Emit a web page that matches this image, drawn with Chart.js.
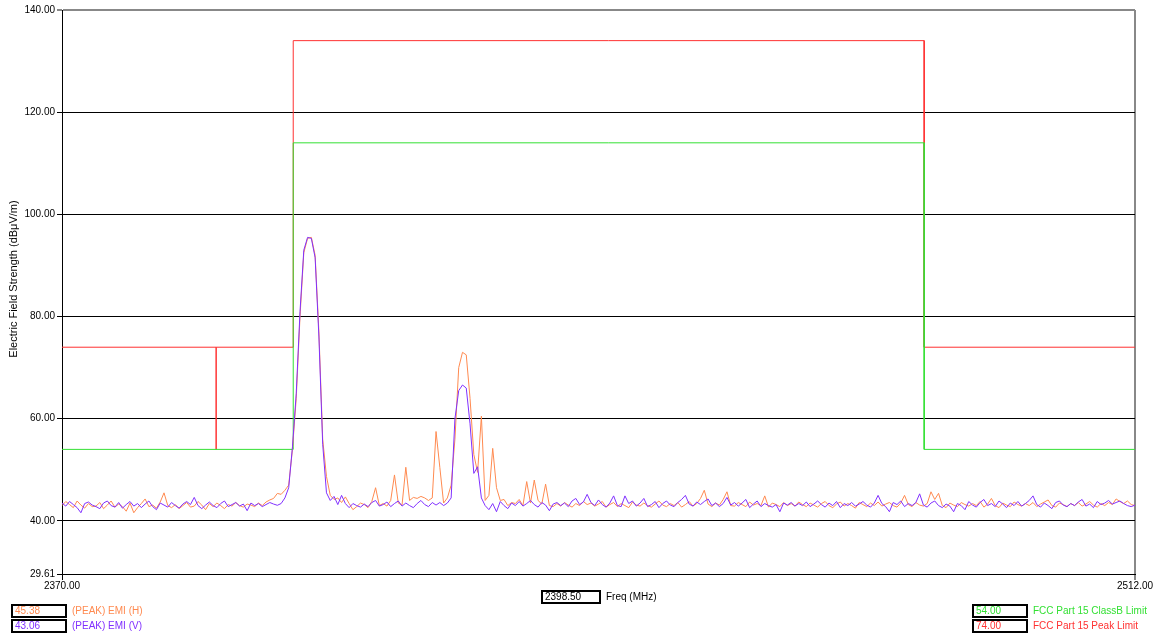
<!DOCTYPE html>
<html>
<head>
<meta charset="utf-8">
<title>EMI Scan 2370-2512 MHz</title>
<script src="https://cdn.jsdelivr.net/npm/chart.js@4"></script>
<style>
  html, body { margin: 0; padding: 0; background: #fff; }
  #wrap { width: 1159px; height: 635px; }
</style>
</head>
<body>
<div id="wrap"><canvas id="emi"></canvas></div>
<script>
// sweep: 2370 MHz start, 0.5 MHz per sample
const freqStart = 2370;
const freqStep = 0.5;

// (PEAK) EMI (H), dBuV/m
const emiH = [
    43.0, 43.8, 43.2, 42.6, 43.9, 43.1, 42.5, 43.4, 42.8, 42.9, 43.6, 42.4, 43.1, 43.9, 42.7, 43.3, 42.8, 41.9, 43.5, 41.6,
    42.6, 43.4, 44.3, 42.8, 43.1, 42.5, 43.7, 45.5, 43.0, 42.6, 43.2, 42.4, 43.0, 43.6, 42.7, 42.9, 43.8, 43.1, 42.2, 43.4,
    42.8, 43.5, 43.0, 42.4, 43.2, 42.9, 43.6, 43.0, 42.7, 43.3, 43.1, 42.8, 43.5, 43.0, 43.7, 44.1, 44.4, 45.38, 45.2, 46.0,
    47.0, 54.0, 64.0, 80.0, 92.5, 95.3, 95.5, 92.0, 77.0, 56.0, 48.7, 45.0, 44.2, 44.5, 43.6, 44.7, 43.4, 42.2, 42.8, 43.5,
    43.2, 42.6, 43.8, 46.5, 43.0, 43.4, 42.9, 44.0, 49.0, 43.5, 43.1, 50.5, 44.0, 44.6, 44.4, 44.8, 44.5, 44.0, 44.5, 57.5,
    50.5, 43.5, 44.5, 47.0, 56.0, 70.0, 73.0, 72.5, 64.0, 53.0, 49.5, 60.5, 44.0, 45.0, 54.2, 46.5, 44.0, 44.2, 43.0, 43.6,
    43.4, 44.2, 43.0, 47.7, 43.5, 48.0, 44.0, 43.3, 47.2, 43.0, 42.8, 43.4, 42.9, 43.6, 43.1, 42.7, 43.4, 43.0, 43.8, 43.2,
    43.5, 42.9, 43.3, 43.8, 42.7, 43.2, 43.6, 42.8, 43.4, 43.0, 42.6, 43.7, 43.1, 42.9, 43.5, 43.0, 42.7, 43.3, 43.9, 43.1,
    42.8, 43.4, 43.0, 43.6, 42.7, 43.2, 43.8, 42.9, 43.4, 44.4, 46.0, 43.3, 42.8, 43.5, 43.1, 44.2, 45.7, 43.0, 42.9, 43.6,
    43.2, 42.8, 43.7, 43.1, 43.4, 43.0, 44.9, 42.7, 43.5, 43.2, 42.8, 43.6, 43.0, 43.4, 42.9, 43.7, 43.2, 42.8, 43.5, 43.1,
    42.7, 43.4, 43.8, 43.0, 42.6, 43.3, 43.7, 42.9, 43.4, 43.0, 42.5, 43.6, 43.2, 42.8, 43.5, 43.0, 43.7, 42.9, 43.3, 43.6,
    43.0, 42.7, 43.5, 45.0, 43.2, 42.8, 43.6, 43.1, 42.9, 43.4, 45.7, 44.2, 45.4, 43.0, 42.6, 43.5, 43.1, 42.8, 43.6, 43.2,
    42.9, 43.4, 43.0, 43.8, 42.7, 43.3, 44.4, 43.0, 42.6, 43.5, 43.1, 42.8, 43.7, 43.2, 42.9, 43.4, 43.0, 43.6, 42.8, 43.3,
    43.7, 44.1, 43.0, 42.7, 43.5, 43.2, 42.8, 43.4, 43.0, 43.6, 42.9, 43.3, 43.8, 43.1, 42.7, 43.4, 43.0, 43.6, 43.2, 44.3,
    43.8, 43.4, 43.9, 43.2, 43.0
];

// (PEAK) EMI (V), dBuV/m
const emiV = [
    43.5, 42.9, 43.8, 43.2, 42.6, 41.6, 43.4, 43.7, 43.1, 42.8, 42.4, 43.5, 43.9, 43.0, 42.7, 43.6, 42.5, 43.2, 43.8, 42.9,
    43.4, 42.6, 43.3, 43.9, 42.8, 42.2, 43.5, 43.1, 42.7, 43.6, 43.0, 42.5, 43.3, 43.8, 43.2, 44.6, 43.0, 42.4, 43.1, 43.7,
    43.0, 42.6, 43.4, 43.9, 42.8, 43.2, 43.6, 42.9, 43.3, 42.0, 43.5, 43.0, 43.4, 42.8, 43.2, 43.6, 43.3, 43.06, 43.4, 44.5,
    46.5, 54.5, 65.0, 81.0, 93.0, 95.5, 95.3, 91.5, 76.0, 55.0, 45.5, 44.0, 44.8, 43.2, 45.0, 43.4, 42.6, 43.4, 43.0, 42.7,
    43.3, 42.8, 43.6, 44.0, 42.9, 43.2, 43.7, 42.8, 43.4, 43.9, 42.9, 43.5, 43.0, 42.6, 43.4, 44.0, 43.2, 42.8, 43.6, 43.1,
    43.6, 43.0, 43.5, 44.5, 60.0, 65.5, 66.6, 66.0, 59.0, 49.3, 50.6, 44.5, 43.0, 42.2, 43.4, 41.8, 43.8, 43.0, 42.4, 43.5,
    43.0, 43.8, 42.9, 43.4, 44.0, 43.2, 42.7, 43.6, 43.1, 42.0, 43.3, 43.6, 43.0, 43.5, 42.8, 43.9, 44.4, 43.2, 43.7, 45.2,
    43.6, 43.0, 44.1, 43.2, 42.7, 43.5, 44.9, 43.0, 42.8, 44.9, 43.4, 43.9, 42.9, 43.5, 44.4, 42.8, 43.2, 43.8, 42.6, 43.4,
    43.9, 43.1, 42.8, 43.6, 44.2, 45.0, 43.3, 42.9, 43.7, 43.2, 43.8, 44.3, 43.0, 43.5, 42.8, 43.4, 44.6, 43.1, 43.6, 42.9,
    43.5, 44.2, 42.6, 43.3, 43.9, 42.8, 43.4, 43.0, 42.7, 43.2, 41.8, 43.5, 43.1, 43.6, 42.9, 43.4, 43.0, 43.7, 42.8, 43.3,
    43.9, 43.2, 42.7, 43.5, 43.0, 43.8, 42.6, 43.4, 43.0, 43.6, 42.9, 43.3, 43.8, 43.1, 42.7, 43.5, 45.0, 43.4, 42.8, 41.8,
    43.6, 43.2, 43.9, 42.8, 43.4, 43.0, 43.6, 45.3, 43.1, 42.7, 43.5, 43.9, 43.0, 42.6, 43.3, 42.9, 41.8, 43.4, 43.0, 42.2,
    43.8, 43.1, 42.7, 43.6, 44.2, 43.0, 43.4, 42.8, 43.9, 43.3, 42.6, 43.5, 43.0, 43.8, 42.9, 43.4, 44.0, 44.9, 43.2, 42.7,
    43.5, 43.0, 42.4, 43.6, 43.9, 43.1, 42.8, 43.4, 43.0, 43.7, 44.2, 42.9, 43.3, 42.6, 43.8, 43.2, 43.5, 44.0, 43.3, 43.6,
    43.9, 43.4, 43.0, 42.8, 43.1
];

// FCC Part 15 limit lines (step shapes)
const classBFreq = [2370, 2400.6, 2400.6, 2484.1, 2484.1, 2512];
const classBLimit = [54, 54, 114, 114, 54, 54];
const peakFreq = [2370, 2390.4, 2390.4, 2390.4, 2400.6, 2400.6, 2484.1, 2484.1, 2512];
const peakLimit = [74, 74, 54, 74, 74, 134, 134, 74, 74];

const yTicks = [29.61, 40, 60, 80, 100, 120, 140];
const xTicks = [2370, 2512];
const cursorFreq = 2398.5;

const COL_H = '#ff8a50';
const COL_V = '#8030ff';
const COL_CLASSB = '#33e033';
const COL_PEAK = '#ff3030';
const FONT = "'Liberation Sans', Arial, sans-serif";

const sweep = (vals) => vals.map((v, i) => ({ x: freqStart + i * freqStep, y: v }));
const pairs = (xs, ys) => xs.map((x, i) => ({ x: x, y: ys[i] }));

const cursorIdx = Math.round((cursorFreq - freqStart) / freqStep);

// boxes + texts under the plot
const readoutPlugin = {
    id: 'readouts',
    afterDraw(chart) {
        const ctx = chart.ctx;
        ctx.save();

        // y axis title
        ctx.save();
        ctx.translate(14, 279);
        ctx.rotate(-Math.PI / 2);
        ctx.font = '11px ' + FONT;
        ctx.fillStyle = '#000';
        ctx.textAlign = 'center';
        ctx.textBaseline = 'middle';
        ctx.fillText('Electric Field Strength (dB\u03bcV/m)', 0, 0);
        ctx.restore();

        const box = (x, y, w, h, val, col, label, labelCol) => {
            ctx.fillStyle = '#fff';
            ctx.fillRect(x, y, w, h);
            ctx.strokeStyle = '#000';
            ctx.lineWidth = 2;
            ctx.strokeRect(x + 1, y + 1, w - 2, h - 2);
            ctx.font = '10px ' + FONT;
            ctx.textBaseline = 'middle';
            ctx.textAlign = 'left';
            ctx.fillStyle = col;
            ctx.fillText(val, x + 4, y + h / 2 + 0.5);
            ctx.fillStyle = labelCol;
            ctx.fillText(label, x + w + 5, y + h / 2 + 0.5);
        };

        box(11, 604, 56, 14, emiH[cursorIdx].toFixed(2), COL_H, '(PEAK) EMI (H)', COL_H);
        box(11, 619, 56, 14, emiV[cursorIdx].toFixed(2), COL_V, '(PEAK) EMI (V)', COL_V);
        box(541, 590, 60, 14, cursorFreq.toFixed(2), '#000', 'Freq (MHz)', '#000');
        box(972, 604, 56, 14, classBLimit[0].toFixed(2), COL_CLASSB, 'FCC Part 15 ClassB Limit', COL_CLASSB);
        box(972, 619, 56, 14, peakLimit[0].toFixed(2), COL_PEAK, 'FCC Part 15 Peak Limit', COL_PEAK);

        ctx.restore();
    }
};

const chart = new Chart(document.getElementById('emi'), {
    type: 'line',
    data: {
        datasets: [{
            label: '(PEAK) EMI (V)',
            data: sweep(emiV),
            borderColor: COL_V,
            borderWidth: 1,
            order: 0
        }, {
            label: '(PEAK) EMI (H)',
            data: sweep(emiH),
            borderColor: COL_H,
            borderWidth: 1,
            order: 1
        }, {
            label: 'FCC Part 15 ClassB Limit',
            data: pairs(classBFreq, classBLimit),
            borderColor: COL_CLASSB,
            borderWidth: 1,
            order: 2
        }, {
            label: 'FCC Part 15 Peak Limit',
            data: pairs(peakFreq, peakLimit),
            borderColor: COL_PEAK,
            borderWidth: 1,
            order: 3
        }]
    },
    options: {
        responsive: true,
        maintainAspectRatio: false,
        animation: false,
        events: [],
        elements: {
            point: { radius: 0 },
            line: { tension: 0 }
        },
        layout: { padding: { left: 0, top: 10, right: 24, bottom: 0 } },
        scales: {
            x: {
                type: 'linear',
                min: 2370,
                max: 2512,
                afterBuildTicks: (scale) => { scale.ticks = xTicks.map(v => ({ value: v })); },
                afterFit: (scale) => { scale.height = 61; },
                ticks: {
                    font: { family: FONT, size: 10 },
                    color: '#000',
                    padding: 0,
                    maxRotation: 0,
                    callback: (v) => Number(v).toFixed(2)
                },
                grid: {
                    color: (c) => c.tick && c.tick.value === 2512 ? '#888' : '#000',
                    lineWidth: (c) => c.tick && c.tick.value === 2512 ? 2 : 1,
                    tickLength: 6
                },
                border: { color: '#000', width: 1 }
            },
            y: {
                min: 29.61,
                max: 140,
                afterBuildTicks: (scale) => { scale.ticks = yTicks.map(v => ({ value: v })); },
                afterFit: (scale) => { scale.width = 62; },
                ticks: {
                    font: { family: FONT, size: 10 },
                    color: '#000',
                    padding: 2,
                    callback: (v) => Number(v).toFixed(2)
                },
                grid: {
                    color: (c) => c.tick && c.tick.value === 140 ? '#888' : '#000',
                    lineWidth: (c) => c.tick && c.tick.value === 140 ? 2 : 1,
                    tickLength: 5
                },
                border: { color: '#000', width: 1 }
            }
        },
        plugins: {
            legend: { display: false },
            tooltip: { enabled: false },
            title: { display: false }
        }
    },
    plugins: [readoutPlugin]
});
</script>
</body>
</html>
